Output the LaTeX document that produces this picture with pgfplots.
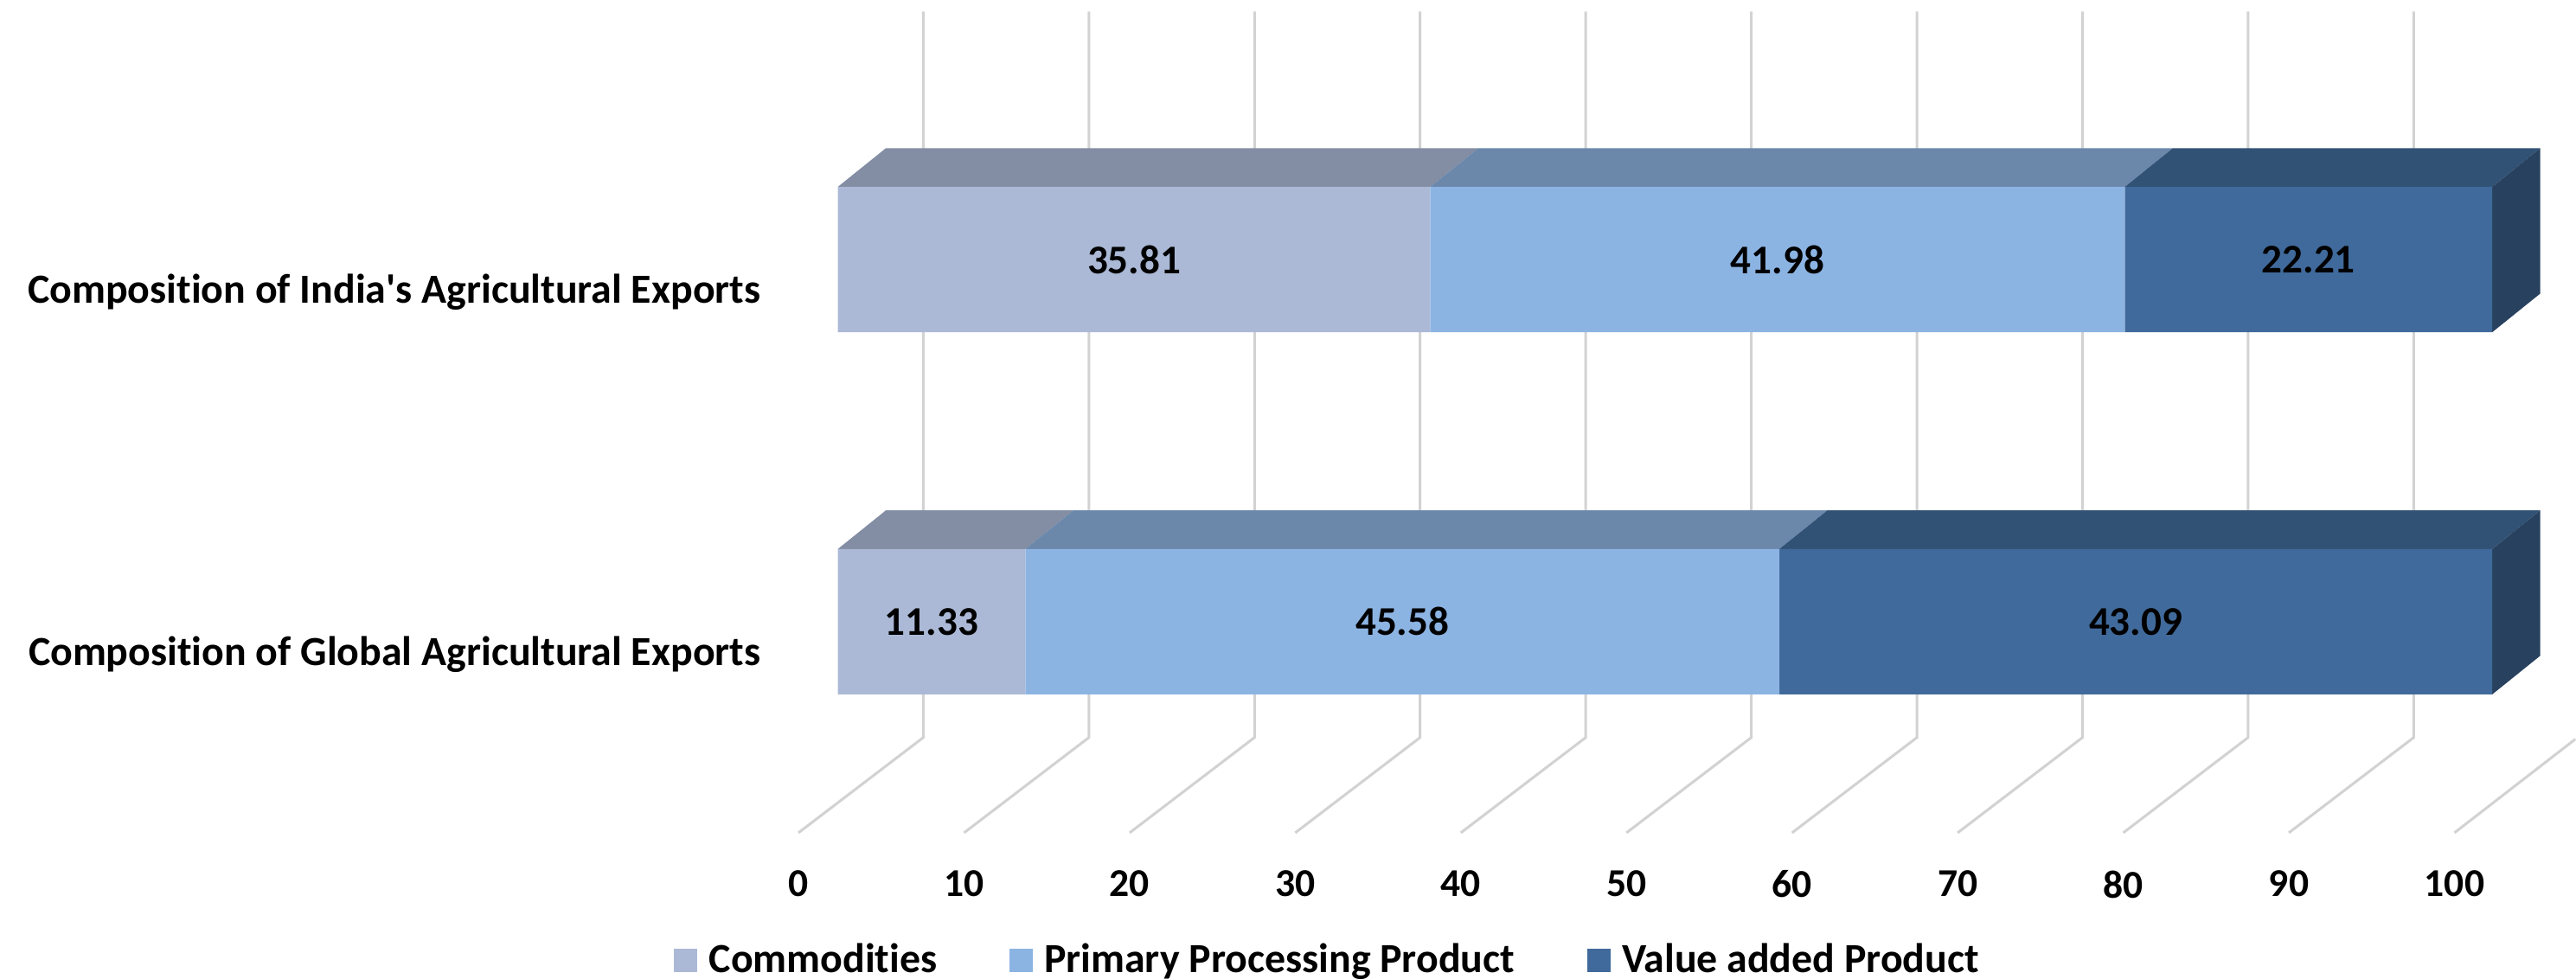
\documentclass[border=0pt]{standalone}
\usepackage{fontspec}
\setmainfont{Carlito}[Ligatures={TeXOff,CommonOff}]
\usepackage{pgfplots}
\pgfplotsset{compat=1.18}
\definecolor{cA}{HTML}{ABB9D6}
\definecolor{cAt}{HTML}{838DA3}
\definecolor{cB}{HTML}{8CB4E3}
\definecolor{cBt}{HTML}{6B88AB}
\definecolor{cC}{HTML}{406A9B}
\definecolor{cCt}{HTML}{315275}
\definecolor{cCs}{HTML}{28415F}
\definecolor{gridc}{HTML}{D2D2D2}
\newcommand{\lblfont}{\fontsize{12}{14}\selectfont\bfseries}
\newcommand{\valfont}{\fontsize{12.4}{14}\selectfont\bfseries}
\newcommand{\catfont}{\fontsize{12.6}{14}\selectfont\bfseries}
\pgfplotsset{barbox/.style={
  at={(255pt,44.5pt)}, anchor=south west,
  scale only axis, width=503.5pt, height=250pt,
  xmin=0, xmax=100, ymin=-0.5828, ymax=1.6848,
  clip=false,
  axis line style={draw=none},
  major tick length=0pt,
  tick style={draw=none},
  xtick=\empty,
}}
\begin{document}
\begin{tikzpicture}[x=1pt,y=1pt]
\useasboundingbox (0,0) rectangle (784,298);
% floor and back wall grid, tick labels
\begin{axis}[
  at={(243pt,44.5pt)}, anchor=south west,
  scale only axis, width=504pt, height=250pt,
  xmin=0, xmax=100, ymin=89, ymax=589,
  clip=false,
  axis line style={draw=none},
  major tick length=0pt,
  tick style={draw=none},
  xtick={0,10,...,100},
  ytick=\empty,
  /pgf/number format/assume math mode=true,
  xticklabel style={font=\lblfont, yshift=-8pt},
]
\pgfplotsinvokeforeach{0,10,...,90}{
  \addplot[gridc, line width=0.8pt, forget plot] coordinates {(#1,89) (#1+7.54,147) (#1+7.54,589)};
}
\addplot[gridc, line width=0.8pt, forget plot] coordinates {(100,89) (107.3,146)};
\end{axis}
% top and side faces of the bars
\begin{axis}[barbox, ytick=\empty]
\addplot[fill=cAt, draw=none] coordinates {(0,1.2007) (35.81,1.2007) (38.71,1.3073) (2.9,1.3073) (0,1.2007)};
\addplot[fill=cBt, draw=none] coordinates {(35.81,1.2007) (77.79,1.2007) (80.69,1.3073) (38.71,1.3073) (35.81,1.2007)};
\addplot[fill=cCt, draw=none] coordinates {(77.79,1.2007) (100,1.2007) (102.9,1.3073) (80.69,1.3073) (77.79,1.2007)};
\addplot[fill=cCs, draw=none] coordinates {(100,0.7993) (102.9,0.9059) (102.9,1.3073) (100,1.2007) (100,0.7993)};
\addplot[fill=cAt, draw=none] coordinates {(0,0.2007) (11.33,0.2007) (14.23,0.3073) (2.9,0.3073) (0,0.2007)};
\addplot[fill=cBt, draw=none] coordinates {(11.33,0.2007) (56.91,0.2007) (59.81,0.3073) (14.23,0.3073) (11.33,0.2007)};
\addplot[fill=cCt, draw=none] coordinates {(56.91,0.2007) (100,0.2007) (102.9,0.3073) (59.81,0.3073) (56.91,0.2007)};
\addplot[fill=cCs, draw=none] coordinates {(100,-0.2007) (102.9,-0.0941) (102.9,0.3073) (100,0.2007) (100,-0.2007)};
\end{axis}
% front faces
\begin{axis}[barbox,
  ytick={0,1},
  yticklabels={Composition of Global Agricultural Exports,Composition of India's Agricultural Exports},
  yticklabel style={font=\catfont, xshift=-20pt, yshift=-10pt},
  xbar stacked,
  bar width=0.4014,
  legend columns=3,
  legend cell align=left,
  legend style={draw=none, fill=none, at={(0,0)}, anchor=north west, xshift=-50pt, yshift=-31.5pt,
    font=\catfont, inner sep=0pt,
    /tikz/every even column/.append style={column sep=20pt},
    /tikz/every odd column/.append style={column sep=1.5pt}},
  legend image code/.code={\fill[#1] (0pt,-3.55pt) rectangle (7.1pt,3.55pt);},
]
\addplot[fill=cA, draw=none] coordinates {(11.33,0) (35.81,1)};
\addplot[fill=cB, draw=none] coordinates {(45.58,0) (41.98,1)};
\addplot[fill=cC, draw=none] coordinates {(43.09,0) (22.21,1)};
\legend{Commodities,Primary Processing Product,Value added Product}
\end{axis}
% value labels, at the middle of each segment
\begin{axis}[barbox, ytick=\empty]
\addplot[only marks, mark=none, point meta=explicit symbolic,
  nodes near coords, nodes near coords align=center,
  every node near coord/.append style={font=\valfont, text=black}]
  coordinates {(17.905,1) [35.81] (56.80,1) [41.98] (88.895,1) [22.21]
               (5.665,0) [11.33] (34.12,0) [45.58] (78.455,0) [43.09]};
\end{axis}
\end{tikzpicture}
\end{document}
